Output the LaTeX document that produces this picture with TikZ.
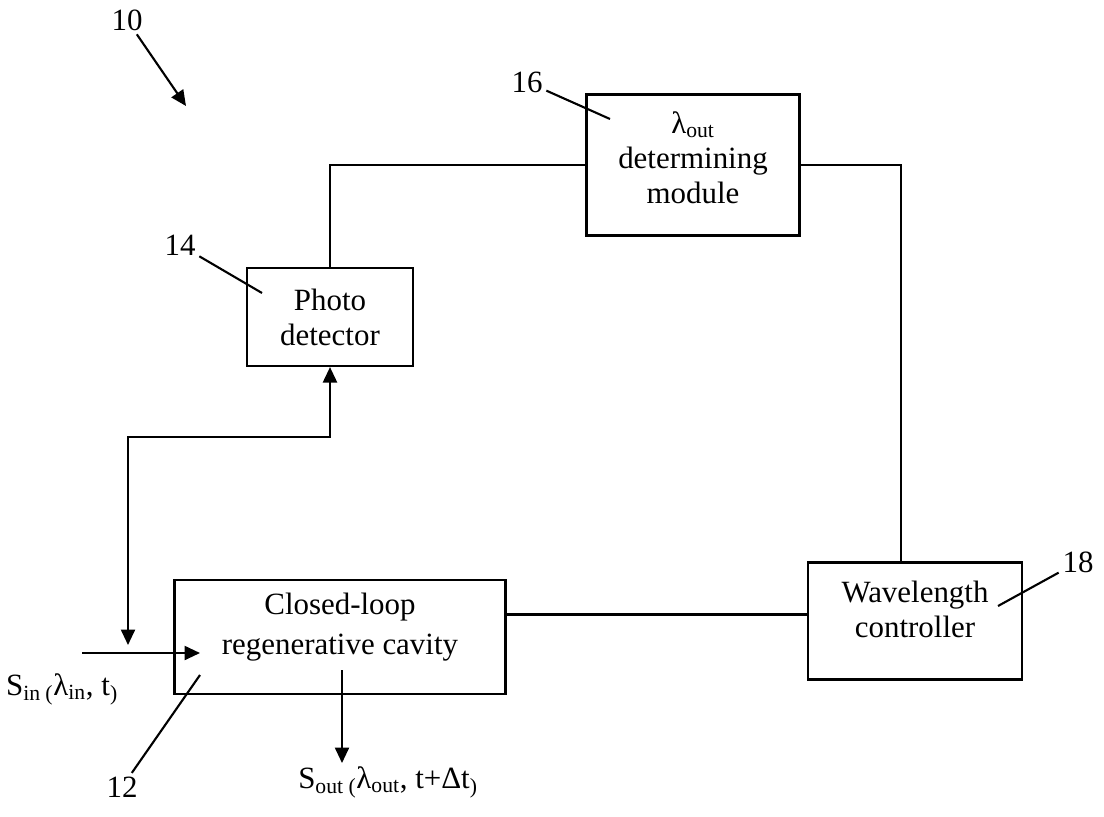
\documentclass[tikz,border=0pt]{standalone}
\usepackage{fontspec}
\setmainfont{Liberation Serif}
\usetikzlibrary{arrows.meta}

\begin{document}
\begin{tikzpicture}[x=0.025cm,y=-0.025cm,>={Triangle[length=11pt,width=10pt]},line width=1.5pt,
        blk/.style={draw, inner sep=0pt},
        txt/.style={align=center, font=\fontsize{22}{25}\selectfont},
        num/.style={inner sep=2pt, font=\fontsize{22}{25}\selectfont}]
        \useasboundingbox (0,0) rectangle (1104,816);
        % blocks
        \node (mod) [blk, minimum width=5.325cm, minimum height=3.525cm] at (693,165) {};
        \node (det) [blk, minimum width=4.15cm, minimum height=2.45cm] at (330,317) {};
        \node (cav) [blk, minimum width=8.275cm, minimum height=2.85cm] at (340,637) {};
        \node (ctrl) [blk, minimum width=5.35cm, minimum height=2.925cm] at (915,621) {};
        \node (modtxt) [txt] at ([yshift=5pt]mod.center) {λ\textsubscript{out}\\determining\\module};
        \node (dettxt) [txt] at (det.center) {Photo\\detector};
        \node (cavtxt) [txt, font=\fontsize{22}{28}\selectfont] at ([yshift=7pt]cav.center) {Closed-loop\\regenerative cavity};
        \node (ctrltxt) [txt] at ([yshift=8pt]ctrl.center) {Wavelength\\controller};
        % reference numerals
        \node (n10) [num] at (127,20) {10};
        \node (n16) [num] at (527,82) {16};
        \node (n14) [num] at (180,245) {14};
        \node (n12) [num] at (122,787) {12};
        \node (n18) [num] at (1078,562) {18};
        \coordinate (p10) at (186,106);
        \coordinate (p16) at (610,119);
        \coordinate (p14) at (262,293);
        \coordinate (p12) at (200,675);
        \coordinate (p18) at (998,606);
        \draw[->] (n10) -- (p10);
        \draw (n16) -- (p16);
        \draw (n14) -- (p14);
        \draw (n12) -- (p12);
        \draw (n18) -- (p18);
        % signals
        \node (sinlbl) [num] at (62,689) {S\textsubscript{in (}λ\textsubscript{in}, t\textsubscript{)}};
        \node (soutlbl) [num] at (388,782) {S\textsubscript{out (}λ\textsubscript{out}, t+Δt\textsubscript{)}};
        \coordinate (sin) at (82,653);
        \coordinate (cavin) at (200,653);
        \coordinate (cavout) at (342,670);
        \coordinate (sout) at (342,763);
        \coordinate (tap) at (det.south |- 0,437);
        \coordinate (drop) at (128,645);
        % connections
        \draw (det.north) |- (mod.west);
        \draw (mod.east) -| ([xshift=-10pt]ctrl.north);
        \draw ([yshift=16pt]cav.east) -- ([yshift=16pt]cav.east -| ctrl.west);
        \draw[<->] (drop) |- (tap) -- (det.south);
        \draw[->] (sin) -- (cavin);
        \draw[->] (cavout) -- (sout);
    \end{tikzpicture}
\end{document}
